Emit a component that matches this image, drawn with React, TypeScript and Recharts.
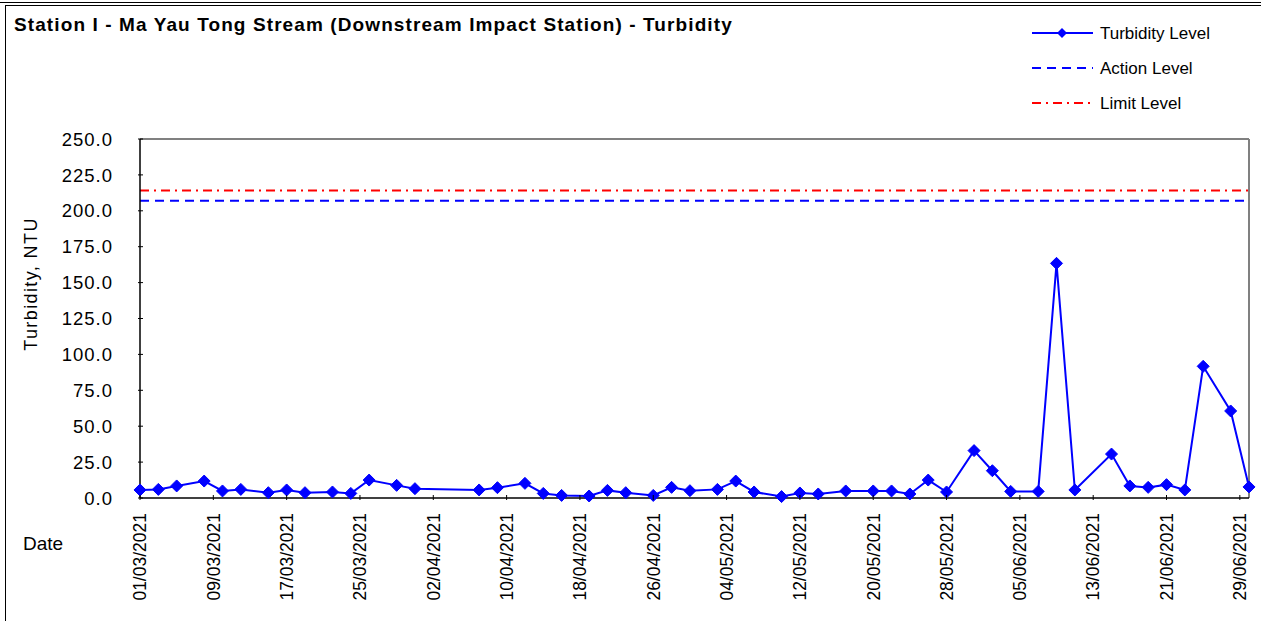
import React from 'react'
import { LineChart, Line, XAxis, YAxis, ReferenceLine } from 'recharts'

const dates = [
  '01/03/2021', '03/03/2021', '05/03/2021', '08/03/2021', '10/03/2021', '12/03/2021', '15/03/2021',
  '17/03/2021', '19/03/2021', '22/03/2021', '24/03/2021', '26/03/2021', '29/03/2021', '31/03/2021',
  '07/04/2021', '09/04/2021', '12/04/2021', '14/04/2021', '16/04/2021', '19/04/2021', '21/04/2021',
  '23/04/2021', '26/04/2021', '28/04/2021', '30/04/2021', '03/05/2021', '05/05/2021', '07/05/2021',
  '10/05/2021', '12/05/2021', '14/05/2021', '17/05/2021', '20/05/2021', '22/05/2021', '24/05/2021',
  '26/05/2021', '28/05/2021', '31/05/2021', '02/06/2021', '04/06/2021', '07/06/2021', '09/06/2021',
  '11/06/2021', '15/06/2021', '17/06/2021', '19/06/2021', '21/06/2021', '23/06/2021', '25/06/2021',
  '28/06/2021', '30/06/2021',
]

const turbidity = [
  5.6, 6.0, 8.4, 11.8, 4.9, 6.0, 3.7,
  5.6, 3.7, 4.2, 3.2, 12.5, 8.8, 6.5,
  5.6, 7.2, 10.2, 3.2, 1.8, 1.4, 5.3,
  3.7, 1.8, 7.4, 5.1, 6.0, 11.8, 4.2,
  1.0, 3.5, 2.8, 4.9, 4.9, 4.9, 2.8,
  12.5, 4.2, 33.0, 19.0, 4.6, 4.6, 163.4,
  5.6, 30.6, 8.4, 7.4, 9.3, 5.6, 91.7,
  60.6, 7.7,
]

const actionLevel = 207.0
const limitLevel = 214.2

const startDate = '01/03/2021'
const endDate = '30/06/2021'
const tickStepDays = 8
const yTicks = [0, 25, 50, 75, 100, 125, 150, 175, 200, 225, 250]

const DAY = 86400000
const toTime = (s: string) => {
  const [d, m, y] = s.split('/').map(Number)
  return Date.UTC(y, m - 1, d)
}
const dayOf = (s: string) => Math.round((toTime(s) - toTime(startDate)) / DAY)
const fmtDay = (n: number) => {
  const dt = new Date(toTime(startDate) + n * DAY)
  const dd = String(dt.getUTCDate()).padStart(2, '0')
  const mm = String(dt.getUTCMonth() + 1).padStart(2, '0')
  return `${dd}/${mm}/${dt.getUTCFullYear()}`
}

const lastDay = dayOf(endDate)
const xTicks: number[] = []
for (let d = 0; d <= lastDay; d += tickStepDays) xTicks.push(d)

const data = dates.map((d, i) => ({ day: dayOf(d), value: turbidity[i] }))

const FONT = 'Arial, "Liberation Sans", sans-serif'

const DateTick = (props: any) => {
  const { x, y, payload } = props
  const ty = y + 13
  return (
    <g>
      <line x1={x} y1={y} x2={x} y2={y - 5} stroke="#000" strokeWidth={1} />
      <text
        x={x}
        y={ty}
        transform={`rotate(-90, ${x}, ${ty})`}
        textAnchor="end"
        dy="0.36em"
        fontSize={17.5}
        fontFamily={FONT}
        fill="#000"
      >
        {fmtDay(payload.value)}
      </text>
    </g>
  )
}

const ValueTick = (props: any) => {
  const { x, y, payload } = props
  return (
    <g>
      <line x1={x} y1={y} x2={x + 5} y2={y} stroke="#000" strokeWidth={1} />
      <text
        x={x - 25}
        y={y}
        textAnchor="end"
        dy="0.36em"
        fontSize={18.5}
        letterSpacing={1}
        fontFamily={FONT}
        fill="#000"
      >
        {Number(payload.value).toFixed(1)}
      </text>
    </g>
  )
}

const Diamond = (props: any) => {
  const { cx, cy, index } = props
  if (cx == null || cy == null) return <g key={index} />
  const r = 6
  return (
    <polygon
      key={index}
      points={`${cx},${cy - r} ${cx + r},${cy} ${cx},${cy + r} ${cx - r},${cy}`}
      fill="#0000FF"
      stroke="#0000FF"
    />
  )
}

function LegendBox() {
  const rows = [
    { label: 'Turbidity Level', color: '#0000FF', dash: undefined, marker: true },
    { label: 'Action Level', color: '#0000FF', dash: '9 6', marker: false },
    { label: 'Limit Level', color: '#FF0000', dash: '9 5 2 5', marker: false },
  ]
  return (
    <svg width={230} height={100} style={{ position: 'absolute', left: 1030, top: 18 }}>
      {rows.map((r, i) => {
        const cy = 15 + i * 35
        return (
          <g key={r.label}>
            <line x1={2} y1={cy} x2={63} y2={cy} stroke={r.color} strokeWidth={2} strokeDasharray={r.dash} />
            {r.marker && (
              <polygon points={`32,${cy - 5} 37,${cy} 32,${cy + 5} 27,${cy}`} fill={r.color} />
            )}
            <text x={70} y={cy} dy="0.36em" fontSize={17} fontFamily={FONT} fill="#000">
              {r.label}
            </text>
          </g>
        )
      })}
    </svg>
  )
}

export default function App() {
  return (
    <div
      style={{
        position: 'absolute',
        left: 0,
        top: 0,
        width: 1261,
        height: 621,
        background: '#fff',
        overflow: 'hidden',
        fontFamily: FONT,
      }}
    >
      <div style={{ position: 'absolute', left: 0, top: 2, width: 1261, height: 1, background: '#000' }} />
      <div
        style={{
          position: 'absolute',
          left: 5,
          top: 5,
          width: 1270,
          height: 630,
          border: '1px solid #000',
        }}
      />
      <div
        style={{
          position: 'absolute',
          left: 14,
          top: 14,
          fontSize: 19,
          letterSpacing: 1.1,
          fontWeight: 'bold',
          whiteSpace: 'nowrap',
        }}
      >
        Station I - Ma Yau Tong Stream (Downstream Impact Station) - Turbidity
      </div>
      <div
        style={{
          position: 'absolute',
          left: 31,
          top: 284,
          fontSize: 18,
          letterSpacing: 1.4,
          whiteSpace: 'nowrap',
          transform: 'translate(-50%, -50%) rotate(-90deg)',
        }}
      >
        Turbidity, NTU
      </div>
      <div style={{ position: 'absolute', left: 23, top: 533, fontSize: 19 }}>Date</div>
      <LegendBox />

      <div style={{ position: 'absolute', left: 0, top: 0 }}>
        <LineChart width={1261} height={621} data={data} margin={{ top: 139, right: 12, bottom: 0, left: 0 }}>
          <XAxis
            dataKey="day"
            type="number"
            domain={[0, lastDay]}
            ticks={xTicks}
            interval={0}
            height={123}
            tickSize={0}
            tickLine={false}
            axisLine={{ stroke: '#000', strokeWidth: 1.5 }}
            tick={<DateTick />}
          />
          <YAxis
            type="number"
            domain={[0, 250]}
            ticks={yTicks}
            interval={0}
            width={140}
            tickSize={0}
            tickLine={false}
            axisLine={{ stroke: '#000', strokeWidth: 1.5 }}
            tick={<ValueTick />}
          />
          <ReferenceLine y={250} stroke="#808080" strokeWidth={2} />
          <ReferenceLine x={lastDay} stroke="#808080" strokeWidth={2} />
          <ReferenceLine y={limitLevel} stroke="#FF0000" strokeWidth={2} strokeDasharray="9 5 2 5" />
          <ReferenceLine y={actionLevel} stroke="#0000FF" strokeWidth={2} strokeDasharray="9 6" />
          <Line
            type="linear"
            dataKey="value"
            stroke="#0000FF"
            strokeWidth={2}
            dot={<Diamond />}
            activeDot={false}
            isAnimationActive={false}
          />
        </LineChart>
      </div>
    </div>
  )
}
